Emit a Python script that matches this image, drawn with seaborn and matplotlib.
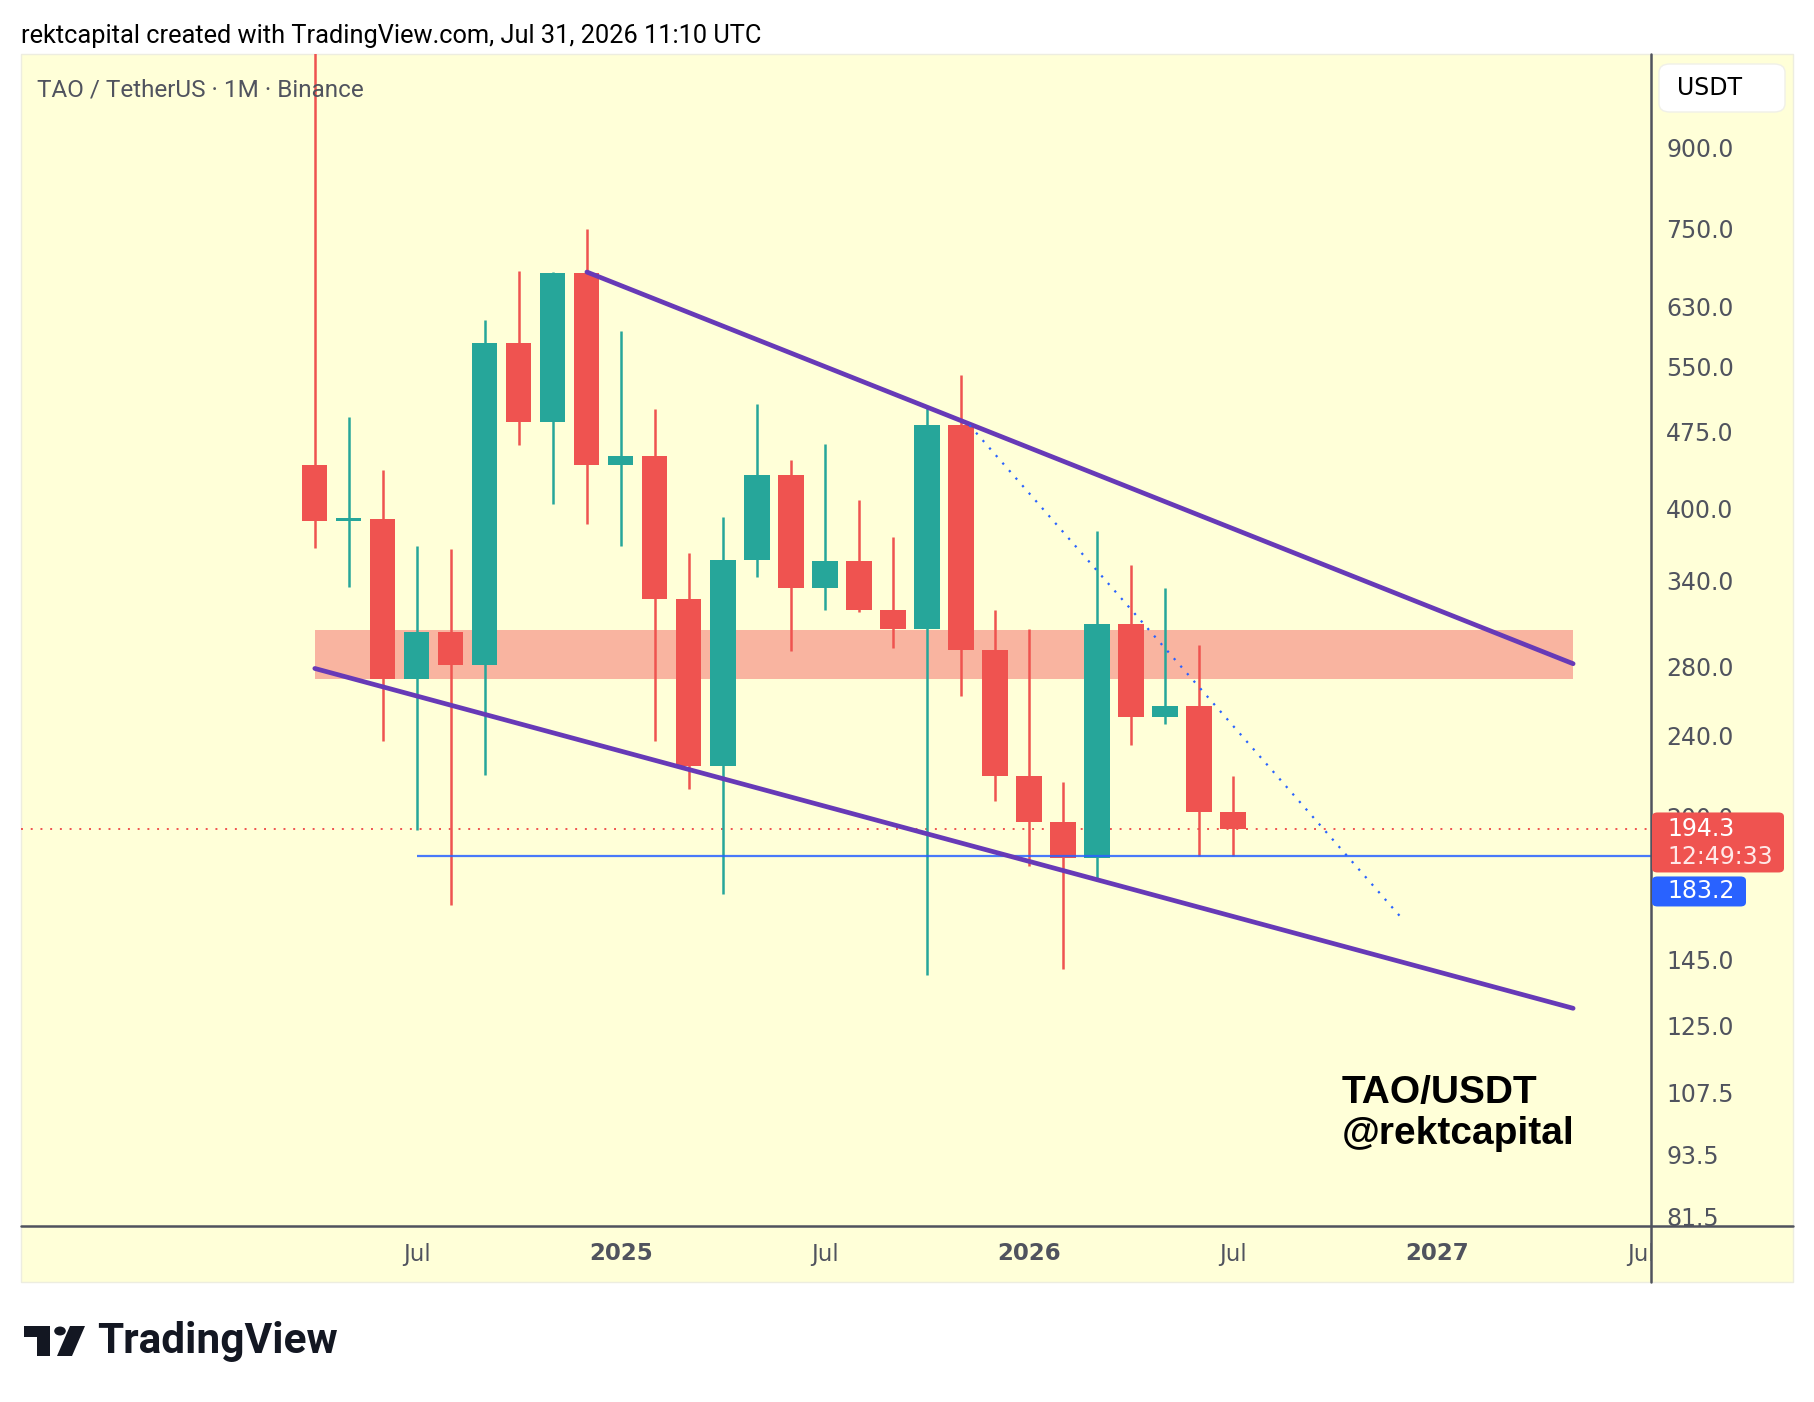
import matplotlib
matplotlib.use("Agg")
import matplotlib.pyplot as plt
import seaborn as sns
import numpy as np
from matplotlib.patches import Rectangle, FancyBboxPatch, Polygon, Circle
from matplotlib.lines import Line2D
from matplotlib.ticker import FixedLocator, NullLocator, NullFormatter, FuncFormatter

# monthly TAO/USDT candles, Apr 2024 .. Jul 2026
months = ["2024-04", "2024-05", "2024-06", "2024-07", "2024-08", "2024-09", "2024-10",
          "2024-11", "2024-12", "2025-01", "2025-02", "2025-03", "2025-04", "2025-05",
          "2025-06", "2025-07", "2025-08", "2025-09", "2025-10", "2025-11", "2025-12",
          "2026-01", "2026-02", "2026-03", "2026-04", "2026-05", "2026-06", "2026-07"]
opens = [441, 389, 390, 272.6, 302.7, 281, 580, 485, 679, 441, 450, 326, 224, 356,
         431, 334, 355, 318, 305, 482, 291, 219, 197.5, 182.4, 308, 250, 256.7, 202]
highs = [1200, 491, 436, 367, 364.6, 610, 682, 680, 749, 595, 500, 362, 392, 505,
         446, 462, 407, 375, 502, 540, 318, 305, 216, 380, 352, 334, 294, 219]
lows = [366, 335, 237, 194, 164, 219.6, 461, 404, 386, 367, 237, 213, 168, 343,
        290, 318, 317, 292, 140, 262, 207, 179, 142, 173, 235, 246.5, 183, 183.2]
closes = [389, 391, 272.6, 302.7, 281, 580, 485, 679, 441, 450, 326, 224, 356, 431,
          334, 355, 318, 305, 482, 291, 219, 197.5, 182.4, 308, 250, 256.7, 202, 194.3]

# drawings (bar index, price)
upper_x, upper_y = [8, 37], [680, 282]
lower_x, lower_y = [0, 37], [279, 130]
dotted_x, dotted_y = [19.25, 31.9], [482, 160]
zone_x, zone_lo, zone_hi = [0, 37], 272.3, 304.5
support_price, support_start = 183.2, 3
last_price, countdown = 194.3, "12:49:33"

y_ticks = [81.5, 93.5, 107.5, 125, 145, 200, 240, 280, 340, 400, 475, 550, 630, 750, 900]
x_ticks = [3, 9, 15, 21, 27, 33, 39]
x_labels = ["Jul", "2025", "Jul", "2026", "Jul", "2027", "Jul"]

BG = "#FFFFD8"
GREEN = "#26A69A"
RED = "#EF5350"
PURPLE = "#673AB7"
BLUE = "#2962FF"
BAND = "#F9B4A0"
GRAY = "#50535E"

sns.set_style("white")
plt.rcParams['font.family'] = ['DejaVu Sans']

W, H = 1814, 1402
fig = plt.figure(figsize=(W / 100, H / 100), dpi=100)
fig.patch.set_facecolor("white")


def fx(px):
    return px / W


def fy(py):
    return 1 - py / H


panel_l, panel_r, panel_t, panel_b = 21, 1793, 54, 1282
axis_x, axis_y = 1651, 1226

fig.add_artist(Rectangle((fx(panel_l), fy(panel_b)), fx(panel_r) - fx(panel_l),
                         fy(panel_t) - fy(panel_b), transform=fig.transFigure,
                         facecolor=BG, edgecolor="#EDEDE0", lw=1, zorder=0))

ax = fig.add_axes([fx(panel_l), fy(axis_y), fx(axis_x) - fx(panel_l), fy(panel_t) - fy(axis_y)])
ax.set_facecolor("none")
for s in ax.spines.values():
    s.set_visible(False)

x = np.arange(len(months))
o = np.array(opens)
c = np.array(closes)
colors = [GREEN if cc >= oo else RED for oo, cc in zip(o, c)]

ax.fill_between(zone_x, zone_lo, zone_hi, color=BAND, lw=0, zorder=1)
ax.vlines(x, lows, highs, colors=colors, lw=1.8, zorder=3)
ax.bar(x, np.abs(c - o), bottom=np.minimum(o, c), width=0.74, color=colors, lw=0, zorder=4)

ax.axhline(last_price, color=RED, lw=1.4, ls=(0, (1, 4)), zorder=2)
ax.hlines(support_price, support_start, 40, color=BLUE, lw=1.6, alpha=0.85, zorder=5)
sns.lineplot(x=upper_x, y=upper_y, color=PURPLE, lw=3.4, ax=ax, zorder=6)
sns.lineplot(x=lower_x, y=lower_y, color=PURPLE, lw=3.4, ax=ax, zorder=6)
sns.lineplot(x=dotted_x, y=dotted_y, color=BLUE, lw=1.6, ls=(0, (1, 3.5)), ax=ax, zorder=6)

ax.set_yscale("log")
ax.set_xlim(-8.64, 39.29)
ax.set_ylim(79.7, 1110)
ax.set_xticks([])
ax.yaxis.tick_right()
ax.yaxis.set_major_locator(FixedLocator(y_ticks))
ax.yaxis.set_major_formatter(FuncFormatter(lambda v, p: f"{v:.1f}"))
ax.yaxis.set_minor_locator(NullLocator())
ax.yaxis.set_minor_formatter(NullFormatter())
ax.tick_params(axis="y", length=0, pad=11, labelsize=17, labelcolor=GRAY)
ax.set_xlabel("")
ax.set_ylabel("")

ax.text(0.0099, 0.9695, "TAO / TetherUS · 1M · Binance", transform=ax.transAxes,
        ha="left", va="center", fontsize=17.5, color=GRAY, family=["Roboto", "DejaVu Sans"])
ax.text(0.8105, 0.1137, "TAO/USDT", transform=ax.transAxes, ha="left", va="center",
        fontsize=28, fontweight="bold", color="black", family=["Liberation Sans"])
ax.text(0.8105, 0.0789, "@rektcapital", transform=ax.transAxes, ha="left", va="center",
        fontsize=28, fontweight="bold", color="black", family=["Liberation Sans"])

# time axis panel
ax_t = fig.add_axes([fx(panel_l), fy(panel_b), fx(axis_x) - fx(panel_l), fy(axis_y) - fy(panel_b)],
                    sharex=ax)
ax_t.set_facecolor("none")
ax_t.axis("off")
ax_t.set_ylim(0, 1)
for xt, lab in zip(x_ticks, x_labels):
    bold = lab.isdigit()
    ax_t.text(xt, 0.5, lab, ha="center", va="center", fontsize=16.5, color=GRAY,
              fontweight="bold" if bold else "normal", clip_on=True)

# axis lines
fig.add_artist(Line2D([fx(axis_x), fx(axis_x)], [fy(panel_t), fy(panel_b)],
                      transform=fig.transFigure, color=GRAY, lw=1.8, zorder=8))
fig.add_artist(Line2D([fx(panel_l), fx(panel_r)], [fy(axis_y), fy(axis_y)],
                      transform=fig.transFigure, color=GRAY, lw=1.8, zorder=8))

# price tags
inv = fig.transFigure.inverted()
y_last = ax.transData.transform((0, last_price))[1]
red_top, red_bot = y_last + 17, y_last - 43
fig.add_artist(FancyBboxPatch(inv.transform((axis_x + 1, red_bot)),
                              fx(132), (red_top - red_bot) / H,
                              boxstyle="round,pad=0,rounding_size=0.003",
                              transform=fig.transFigure, fc=RED, ec="none", zorder=9))
fig.text(fx(1667), y_last / H, f"{last_price:.1f}", ha="left", va="center",
         fontsize=17, color="white", zorder=10)
fig.text(fx(1667), (y_last - 28) / H, countdown, ha="left", va="center",
         fontsize=17, color="#FFE8E8", zorder=10)
blue_top = red_bot - 4
fig.add_artist(FancyBboxPatch((fx(axis_x + 1), (blue_top - 30) / H), fx(94), 30 / H,
                              boxstyle="round,pad=0,rounding_size=0.003",
                              transform=fig.transFigure, fc=BLUE, ec="none", zorder=9))
fig.text(fx(1667), (blue_top - 15) / H, f"{support_price:.1f}", ha="left", va="center",
         fontsize=17, color="white", zorder=10)

# currency box
fig.add_artist(FancyBboxPatch((fx(1659), fy(112)), fx(126), (112 - 64) / H,
                              boxstyle="round,pad=0,rounding_size=0.006",
                              transform=fig.transFigure, fc="white", ec="#F0F0E8", lw=1, zorder=9))
fig.text(fx(1677), fy(88), "USDT", ha="left", va="center", fontsize=17, color="black", zorder=10)

# header and footer
fig.text(fx(21), fy(36), "rektcapital created with TradingView.com, Jul 31, 2026 11:10 UTC",
         ha="left", va="center", fontsize=18.3, color="black", family=["Roboto", "DejaVu Sans"])

logo_kw = dict(transform=fig.transFigure, fc="#131722", ec="none")
fig.add_artist(Polygon([(fx(24), fy(1326)), (fx(50), fy(1326)), (fx(50), fy(1356)),
                        (fx(37), fy(1356)), (fx(37), fy(1337)), (fx(24), fy(1337))], **logo_kw))
fig.add_artist(Circle((fx(60), fy(1331)), 5.8 / W, **logo_kw))
fig.add_artist(Polygon([(fx(70), fy(1326)), (fx(85), fy(1326)), (fx(72), fy(1356)),
                        (fx(57), fy(1356))], **logo_kw))
fig.text(fx(97), fy(1342), "TradingView", ha="left", va="center", fontsize=30.5,
         fontweight="bold", color="#131722", family=["Roboto", "DejaVu Sans"])

fig.savefig("out.png", dpi=100, facecolor="white")
